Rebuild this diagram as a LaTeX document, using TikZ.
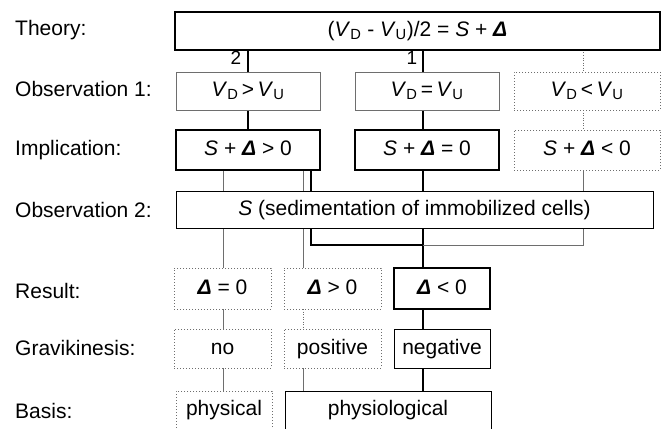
\documentclass[tikz,border=0pt]{standalone}
\usepackage{fontspec}
\setmainfont{Liberation Sans}
\usetikzlibrary{backgrounds}
\definecolor{lgray}{RGB}{110,110,110}
\tikzstyle{sbox}=[rectangle, draw=black, fill=white, line width=1.2pt,
  inner sep=0pt, outer sep=0pt, text centered, minimum height=38pt,
  text height=15pt, text depth=4pt]
\tikzstyle{gbox}=[sbox, draw=lgray, line width=0.9pt]
\tikzstyle{dbox}=[sbox, draw=lgray, line width=0.9pt,
  dash pattern=on 1pt off 2pt]
\tikzstyle{lbl}=[anchor=west, inner sep=0pt]
\tikzstyle{num}=[inner sep=0pt, font=\fontsize{19}{22}\selectfont]
\tikzstyle{tlink}=[line width=2.2pt, draw=black]
\tikzstyle{flink}=[line width=0.8pt, draw=lgray]
\tikzstyle{dlink}=[line width=0.8pt, draw=lgray, dash pattern=on 1pt off 1.5pt]
\newcommand{\vd}{\textit{V}\textsubscript{D}}
\newcommand{\vu}{\textit{V}\textsubscript{U}}
\newcommand{\dl}{\textbf{\textit{Δ}}}

\begin{document}
\begin{tikzpicture}[x=1pt, y=-1pt, font=\fontsize{21}{25}\selectfont]
    \useasboundingbox (0,0) rectangle (663,428);
    \clip (0,0) rectangle (663,428);
    \node[lbl] (lt) at (15,30) {Theory:};
    \node[lbl] (lo1) at (15,89) {Observation 1:};
    \node[lbl] (li) at (15,150) {Implication:};
    \node[lbl] (lo2) at (15,210) {Observation 2:};
    \node[lbl] (lr) at (15,291) {Result:};
    \node[lbl] (lg) at (15,348) {Gravikinesis:};
    \node[lbl] (lb) at (15,411) {Basis:};

    \coordinate (k2) at (248,0);
    \coordinate (k1) at (423,0);
    \coordinate (k3) at (583,0);
    \coordinate (ka) at (223,0);
    \coordinate (kb) at (303,0);
    \coordinate (kc) at (311,0);
    \coordinate (kj) at (0,245);

    \node[sbox, line width=2.5pt, minimum width=485pt] (th) at (417.5,31)
      {(\vd\ - \vu)/2 = \textit{S} + \dl};
    \node[num] (n2) at (236,58) {2};
    \node[num] (n1) at (412,58) {1};

    \node[gbox, minimum width=144pt] (o1a) at (248,91) {\vd\,>\,\vu};
    \node[gbox, minimum width=144pt] (o1b) at (427,91) {\vd\,=\,\vu};
    \node[dbox, minimum width=146pt] (o1c) at (587,91) {\vd\,<\,\vu};

    \node[sbox, minimum width=144pt, minimum height=40pt] (i1a) at (248,150) {\textit{S} + \dl\ > 0};
    \node[sbox, minimum width=144pt, minimum height=40pt] (i1b) at (427,150) {\textit{S} + \dl\ = 0};
    \node[dbox, minimum width=146pt, minimum height=40pt] (i1c) at (587,150) {\textit{S} + \dl\ < 0};

    \node[sbox, line width=0.9pt, minimum width=477pt, minimum height=37pt] (o2) at (414.5,209.5)
      {\textit{S} (sedimentation of immobilized cells)};

    \node[dbox, minimum width=97pt, minimum height=41pt] (ra) at (222.5,288.5) {\dl\ = 0};
    \node[dbox, minimum width=97pt, minimum height=41pt] (rb) at (332.5,288.5) {\dl\ > 0};
    \node[sbox, minimum width=96pt, minimum height=41pt] (rc) at (442,288.5) {\dl\ < 0};

    \node[dbox, minimum width=97pt, minimum height=39pt] (ga) at (222.5,348.5) {no};
    \node[dbox, minimum width=97pt, minimum height=39pt] (gb) at (332.5,348.5) {positive};
    \node[sbox, line width=1pt, minimum width=96pt, minimum height=39pt] (gc) at (442,348.5) {negative};

    \node[dbox, minimum width=96pt, minimum height=60pt] (ba) at (224,421) {};
    \node[sbox, line width=1pt, minimum width=206pt, minimum height=60pt] (bb) at (388,421) {};
    \node[text height=15pt, text depth=4pt] (bat) at (224,410) {physical};
    \node[text height=15pt, text depth=4pt] (bbt) at (388,410) {physiological};

    \begin{pgfonlayer}{background}
    \draw[tlink] (th.south -| k2) -- (o1a.north -| k2);
    \draw[tlink] (th.south -| k1) -- (o1b.north -| k1);
    \draw[dlink] (th.south -| k3) -- (o1c.north -| k3);
    \draw[tlink] (o1a.south -| k2) -- (i1a.north -| k2);
    \draw[tlink] (o1b.south -| k1) -- (i1b.north -| k1);
    \draw[dlink] (o1c.south -| k3) -- (i1c.north -| k3);
    \draw[flink] (i1a.south -| ka) -- (ra.north -| ka);
    \draw[flink] (i1a.south -| kb) -- (rb.north -| kb);
    \draw[tlink] (i1a.south -| kc) -- (kc |- kj) -- (k1 |- kj);
    \draw[tlink] (i1b.south -| k1) -- (rc.north -| k1);
    \draw[flink] (i1c.south -| k3) -- (k3 |- kj) -- (k1 |- kj);
    \draw[flink] (ra.south -| ka) -- (ga.north -| ka);
    \draw[dlink] (rb.south -| kb) -- (gb.north -| kb);
    \draw[tlink] (rc.south -| k1) -- (gc.north -| k1);
    \draw[flink] (ga.south -| ka) -- (ba.north -| ka);
    \draw[flink] (gb.south -| kb) -- (bb.north -| kb);
    \draw[tlink] (gc.south -| k1) -- (bb.north -| k1);
    \end{pgfonlayer}
  \end{tikzpicture}
\end{document}
